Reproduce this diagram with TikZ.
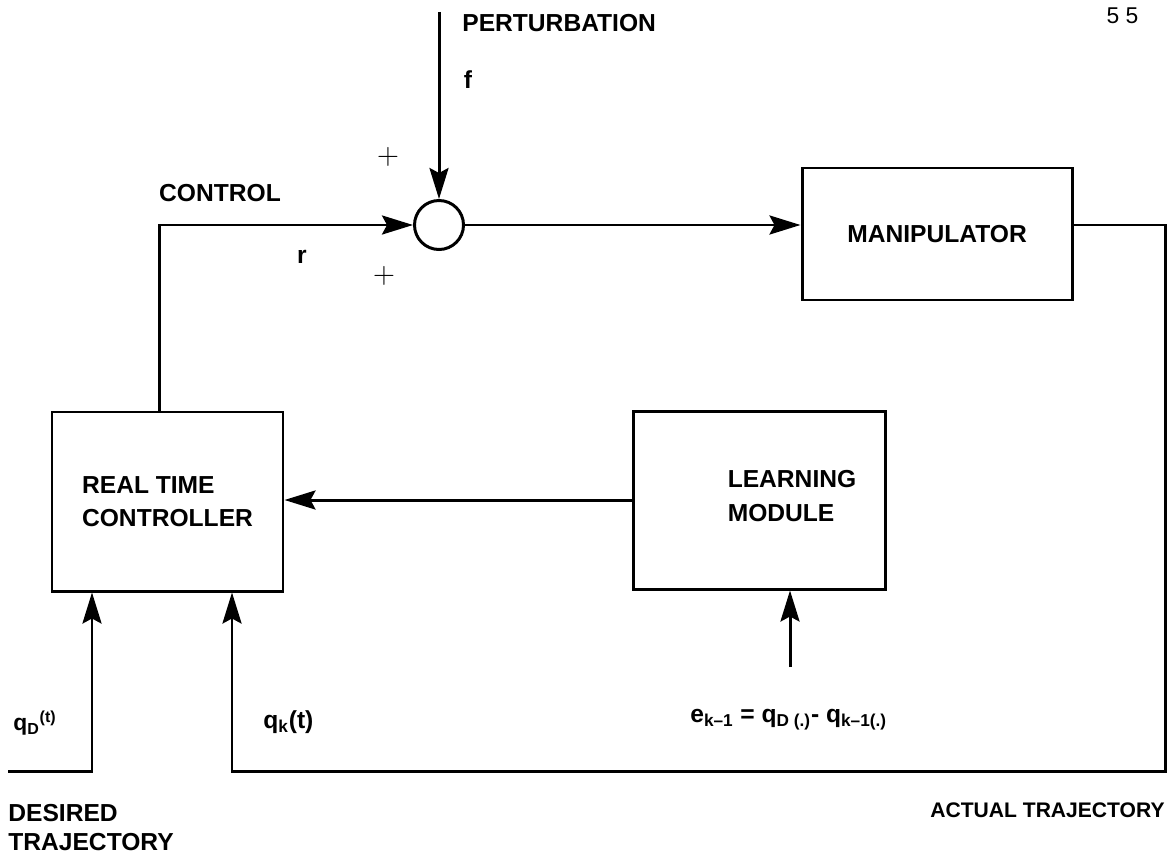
\documentclass[tikz,border=0pt]{standalone}
\usepackage{fontspec}
\newfontfamily\diagfont{Liberation Sans}
\usetikzlibrary{arrows.meta}
\tikzset{
  block/.style={draw, line width=1.7pt, inner sep=0pt},
  lbl/.style={font=\diagfont\bfseries\fontsize{14}{19}\selectfont, inner sep=0pt},
  sml/.style={font=\diagfont\bfseries\fontsize{12}{16}\selectfont, inner sep=0pt},
  flow/.style={line width=1.7pt, -{Stealth[length=6.2mm,width=3.8mm,inset=1mm]}},
}
\begin{document}
\begin{tikzpicture}
\useasboundingbox (0,0) rectangle (23.48,-17.12);
% blocks
\node[block, lbl, align=left, minimum width=4.62cm, minimum height=3.58cm] (rtc) at (3.35,-10.03) {REAL TIME\\CONTROLLER};
\node[block, minimum width=5.04cm, minimum height=3.56cm] (lm) at (15.18,-10.0) {};
\node[lbl, align=left] (lmtext) at (15.84,-9.92) {LEARNING\\MODULE};
\node[block, lbl, minimum width=5.4cm, minimum height=2.64cm] (manip) at (18.74,-4.68) {MANIPULATOR};
\node[draw, circle, line width=1.7pt, minimum size=0.98cm, inner sep=0pt] (sum) at (8.78,-4.5) {};

% free ends
\coordinate (pin) at (8.78,-0.24);
\coordinate (din) at (0.16,-15.42);
\coordinate (ret) at (23.3,-15.42);
\coordinate (ein) at (15.8,-13.34);

% connectors
\draw[flow] (pin) -- (sum.north);
\draw[flow] ([xshift=-0.16cm]rtc.north) |- (sum.west);
\draw[flow] (sum.east) -- (sum.east -| manip.west);
\draw[flow] (sum.east -| manip.east) -| (ret) -| ([xshift=1.29cm]rtc.south);
\draw[flow] (din) -| ([xshift=-1.51cm]rtc.south);
\draw[flow] (lm.west) -- (lm.west -| rtc.east);
\draw[flow] (ein) -- (ein |- lm.south);

% labels
\node[lbl, anchor=west] (pert) at (9.24,-0.46) {PERTURBATION};
\node[lbl] (f) at (9.36,-1.6) {f};
\foreach \x/\y [count=\i] in {7.76/-3.14, 7.68/-5.52}
  \node[font=\fontsize{17}{17}\selectfont, inner sep=0pt] (plus\i) at (\x,\y) {$+$};
\node[lbl] (ctrl) at (4.4,-3.86) {CONTROL};
\node[lbl] (r) at (6.04,-5.14) {r};
\node[lbl, anchor=west, font=\diagfont\bfseries\fontsize{13}{16}\selectfont] (qd) at (0.26,-14.46) {q\textsubscript{D}\textsuperscript{(t)}};
\node[lbl, anchor=west] (qk) at (5.26,-14.44) {q\textsubscript{k}(t)};
\node[lbl, anchor=west] (err) at (13.8,-14.4) {e\textsubscript{k–1} = q\textsubscript{D (.)}- q\textsubscript{k–1(.)}};
\node[lbl, anchor=west, align=left, font=\diagfont\bfseries\fontsize{14}{16.5}\selectfont] (des) at (0.16,-16.55) {DESIRED\\TRAJECTORY};
\node[sml, anchor=east] (act) at (23.3,-16.2) {ACTUAL TRAJECTORY};
\node[font=\diagfont\fontsize{13}{13}\selectfont] (page) at (22.45,-0.32) {5 5};
\end{tikzpicture}
\end{document}
